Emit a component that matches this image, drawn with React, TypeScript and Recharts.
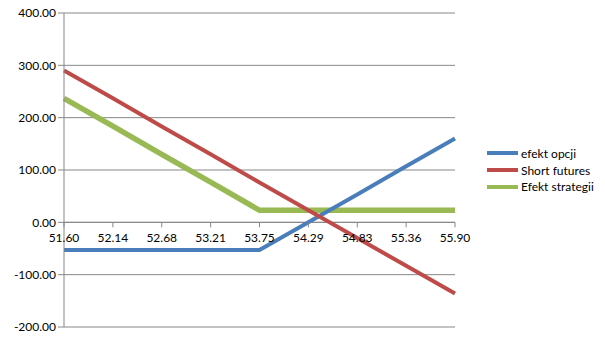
import React from 'react';
import {
  LineChart,
  Line,
  XAxis,
  YAxis,
  CartesianGrid,
  ReferenceLine,
} from 'recharts';

// kategorie (cena) i wartości serii
const prices = ['51.60', '52.14', '52.68', '53.21', '53.75', '54.29', '54.83', '55.36', '55.90'];
const efektOpcji = [-53, -53, -53, -53, -53, 0, 53, 107, 160];
const shortFutures = [290, 237, 183, 130, 76, 23, -30, -83, -136];
const efektStrategii = [237, 184, 130, 77, 23, 23, 23, 23, 23];
const yTicks = [-200, -100, 0, 100, 200, 300, 400];

const data = prices.map((p, i) => ({
  price: p,
  opcje: efektOpcji[i],
  futures: shortFutures[i],
  strategia: efektStrategii[i],
}));

const W = 605;
const H = 340;
const TOP = 13;
const BOTTOM = 12;
const X_AXIS_H = 1;
const Y_MIN = -200;
const Y_MAX = 400;
const plotH = H - TOP - BOTTOM - X_AXIS_H;
const zeroY = TOP + (plotH * Y_MAX) / (Y_MAX - Y_MIN);

const gridColor = '#878787';
const textColor = '#000';
const font = 'Lato, "Open Sans", sans-serif';

const legendItems = [
  { name: 'efekt opcji', color: '#4A7EBB' },
  { name: 'Short futures', color: '#BE4B48' },
  { name: 'Efekt strategii', color: '#98B954' },
];

// etykiety osi X rysowane przy linii zera (jak w Excelu)
const ZeroTick = (props: any) => {
  const { x, payload } = props;
  return (
    <g>
      <line x1={x} x2={x} y1={zeroY} y2={zeroY + 5} stroke={gridColor} />
      <text x={x} y={zeroY + 20} textAnchor="middle" fill={textColor} fontSize={12} fontFamily={font}>
        {payload.value}
      </text>
    </g>
  );
};

const App: React.FC = () => {
  return (
    <div style={{ position: 'absolute', left: 0, top: 0, width: W, height: H, background: '#fff' }}>
      <LineChart width={W} height={H} data={data} margin={{ top: TOP, right: 150, left: 0, bottom: BOTTOM }}>
        <CartesianGrid vertical={false} stroke={gridColor} />
        <XAxis
          dataKey="price"
          height={X_AXIS_H}
          axisLine={false}
          tickLine={false}
          interval={0}
          tick={(p: any) => <ZeroTick {...p} />}
        />
        <YAxis
          width={64}
          domain={[Y_MIN, Y_MAX]}
          ticks={yTicks}
          interval={0}
          stroke={gridColor}
          tickSize={6}
          tick={{ fill: textColor, fontSize: 12, fontFamily: font }}
          tickFormatter={(v: number) => v.toFixed(2)}
        />
        <ReferenceLine y={0} stroke={gridColor} />
        <Line dataKey="strategia" stroke="#98B954" strokeWidth={5.5} dot={false} isAnimationActive={false} />
        <Line dataKey="opcje" stroke="#4A7EBB" strokeWidth={4} dot={false} isAnimationActive={false} />
        <Line dataKey="futures" stroke="#BE4B48" strokeWidth={4} dot={false} isAnimationActive={false} />
      </LineChart>
      {/* legenda po prawej */}
      <div style={{ position: 'absolute', left: 487, top: 145, fontFamily: font, fontSize: 12, color: textColor }}>
        {legendItems.map((it) => (
          <div key={it.name} style={{ display: 'flex', alignItems: 'center', height: 16.7 }}>
            <span style={{ display: 'inline-block', width: 31, height: 4, background: it.color, marginRight: 3 }} />
            <span>{it.name}</span>
          </div>
        ))}
      </div>
    </div>
  );
};

export default App;
